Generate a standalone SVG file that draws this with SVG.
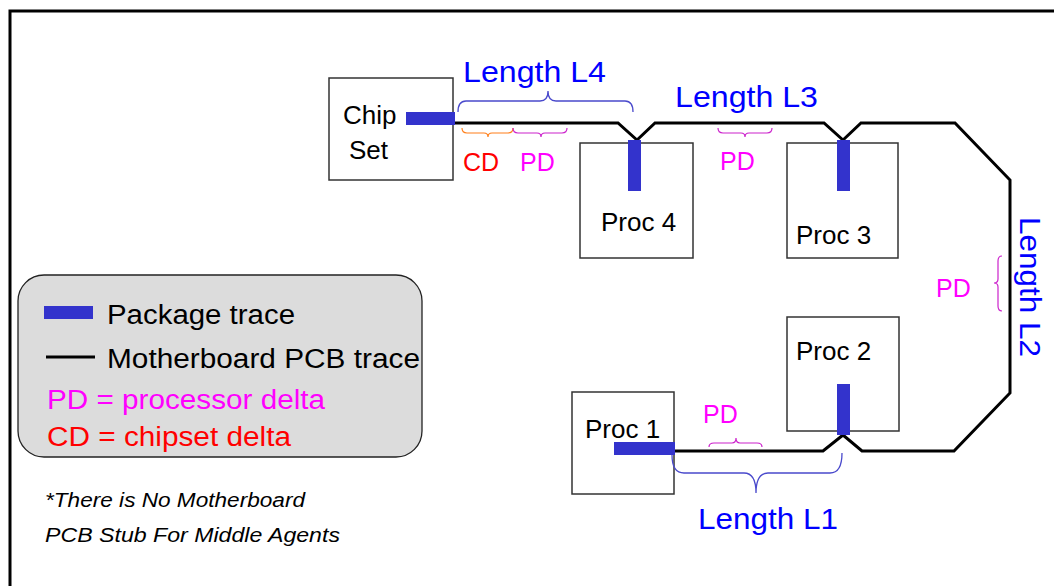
<svg xmlns="http://www.w3.org/2000/svg" width="1054" height="586" viewBox="0 0 1054 586">
<style>
text{font-family:"Liberation Sans",Arial,sans-serif}
.box{fill:#fff;stroke:#333;stroke-width:1.5}
.lbl{font-size:26px;fill:#000}
.pkg{fill:#3333cc}
.trace{fill:none;stroke:#000;stroke-width:3;stroke-linejoin:miter}
.len{font-size:30px;fill:#0000ff}
.pd{font-size:25px;fill:#ff00ff}
.cd{font-size:25px;fill:#ff0000}
.brL{fill:none;stroke:#4a4acc;stroke-width:1.3}
.brP{fill:none;stroke:#cc22cc;stroke-width:1.2}
.brC{fill:none;stroke:#ff7f1a;stroke-width:1.2}
</style>
<rect width="1054" height="586" fill="#fff"/>
<path d="M10,586 V11 H1054" fill="none" stroke="#000" stroke-width="3"/>

<g id="connectors">
<path class="trace" d="M453,123 L618,123 L637,140 L655,123 L824,123 L843,140 L861,123 L955,123 L1010,180 L1010,393 L954,451 L862,451 L843,435 L823,451 L675,451"/>
</g>

<g id="chipset">
<rect class="box" x="329" y="78" width="124" height="102"/>
<text class="lbl" x="343" y="124">Chip</text>
<text class="lbl" x="349" y="159">Set</text>
<rect class="pkg" x="406" y="112" width="49" height="13"/>
</g>

<g id="proc4">
<rect class="box" x="580" y="143" width="113" height="115"/>
<text class="lbl" x="601" y="231">Proc 4</text>
<rect class="pkg" x="628" y="140" width="13" height="51"/>
</g>

<g id="proc3">
<rect class="box" x="787" y="143" width="111" height="115"/>
<text class="lbl" x="796" y="244">Proc 3</text>
<rect class="pkg" x="837" y="140" width="13" height="51"/>
</g>

<g id="proc2">
<rect class="box" x="787" y="317" width="112" height="114"/>
<text class="lbl" x="796" y="360">Proc 2</text>
<rect class="pkg" x="837" y="384" width="13" height="51"/>
</g>

<g id="proc1">
<rect class="box" x="572" y="392" width="102" height="102"/>
<text class="lbl" x="585" y="438">Proc 1</text>
<rect class="pkg" x="614" y="442" width="61" height="13"/>
</g>

<g id="annotations">
<path class="brL" d="M458,112 Q458,101 466,101 L540,101 Q548,101 548,91 Q548,101 556,101 L625,101 Q633,101 633,112"/>
<text class="len" x="463" y="82" textLength="143" lengthAdjust="spacingAndGlyphs">Length L4</text>
<path class="brC" d="M462,128 Q462,133 467,133 L484,133 Q488,133 488,137 Q488,133 492,133 L508,133 Q513,133 513,128"/>
<path class="brP" d="M513,128 Q513,133 518,133 L537,133 Q541,133 541,137 Q541,133 545,133 L562,133 Q567,133 567,128"/>
<text class="cd" x="463" y="171">CD</text>
<text class="pd" x="520" y="171">PD</text>

<text class="len" x="675" y="107" textLength="143" lengthAdjust="spacingAndGlyphs">Length L3</text>
<path class="brP" d="M718,128 Q718,133 723,133 L741,133 Q745,133 745,137 Q745,133 749,133 L767,133 Q772,133 772,128"/>
<text class="pd" x="720" y="170">PD</text>

<text class="len" transform="translate(1020,217) rotate(90)" x="0" y="0" textLength="140" lengthAdjust="spacingAndGlyphs">Length L2</text>
<path class="brP" d="M1002,256 Q998,256 998,261 L998,279 Q998,283 994,283 Q998,283 998,287 L998,306 Q998,311 1002,311"/>
<text class="pd" x="936" y="297">PD</text>

<path class="brP" d="M709,447 Q709,443 714,443 L732,443 Q736,443 736,438 Q736,443 740,443 L757,443 Q762,443 762,447"/>
<text class="pd" x="703" y="423">PD</text>
<path class="brL" d="M672,455 Q672,473 684,473 L744,473 Q756,473 756,493 Q756,473 768,473 L830,473 Q842,473 842,453"/>
<text class="len" x="698" y="529" textLength="140" lengthAdjust="spacingAndGlyphs">Length L1</text>
</g>

<g id="legend">
<rect x="18" y="275" width="404" height="182" rx="26" ry="26" fill="#dcdcdc" stroke="#222" stroke-width="1.3"/>
<rect class="pkg" x="44" y="306" width="49" height="13"/>
<text x="107" y="324" font-size="27" fill="#000" textLength="188" lengthAdjust="spacingAndGlyphs">Package trace</text>
<line x1="46" y1="357" x2="95" y2="357" stroke="#000" stroke-width="3"/>
<text x="107" y="368" font-size="27" fill="#000" textLength="313" lengthAdjust="spacingAndGlyphs">Motherboard PCB trace</text>
<text x="47" y="409" font-size="27" fill="#ff00ff" textLength="278" lengthAdjust="spacingAndGlyphs">PD = processor delta</text>
<text x="47" y="446" font-size="27" fill="#ff0000" textLength="244" lengthAdjust="spacingAndGlyphs">CD = chipset delta</text>
</g>

<g id="footnote">
<text x="45" y="507" font-size="20" font-style="italic" fill="#000" textLength="260" lengthAdjust="spacingAndGlyphs">*There is No Motherboard</text>
<text x="45" y="542" font-size="20" font-style="italic" fill="#000" textLength="295" lengthAdjust="spacingAndGlyphs">PCB Stub For Middle Agents</text>
</g>
</svg>
